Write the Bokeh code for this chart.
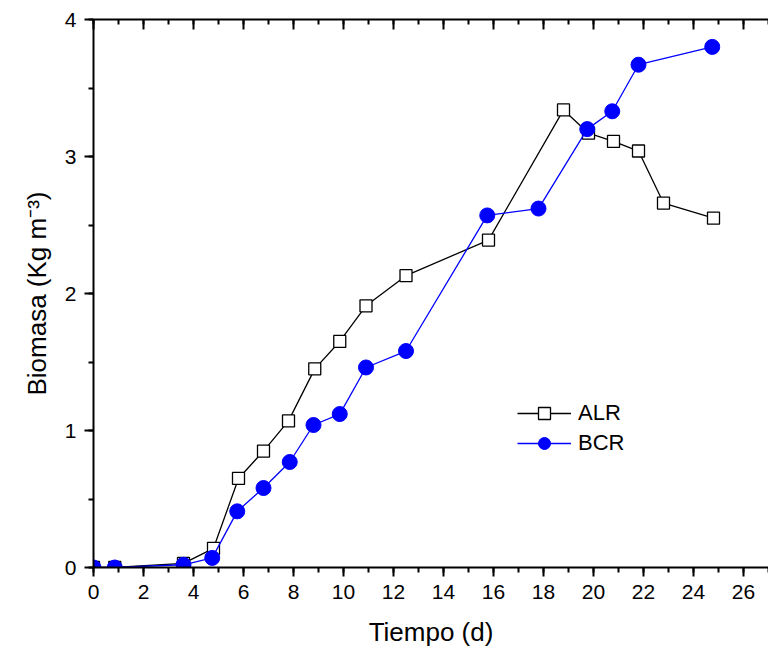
from bokeh.plotting import figure
from bokeh.models import (LinearAxis, Legend, LegendItem, Range1d, SingleIntervalTicker,
                          CustomJSTickFormatter)
from bokeh.embed import file_html
from bokeh.resources import INLINE

# Data
alr_t = [0.0, 0.85, 3.6, 4.8, 5.8, 6.8, 7.8, 8.85, 9.85, 10.9, 12.5, 15.8, 18.8, 19.8, 20.8, 21.8, 22.8, 24.8]
alr_b = [0.0, 0.0, 0.03, 0.14, 0.65, 0.85, 1.07, 1.45, 1.65, 1.91, 2.13, 2.39, 3.34, 3.17, 3.11, 3.04, 2.66, 2.55]
bcr_t = [0.0, 0.85, 3.6, 4.75, 5.75, 6.8, 7.85, 8.8, 9.85, 10.9, 12.5, 15.75, 17.8, 19.75, 20.75, 21.8, 24.75]
bcr_b = [0.0, 0.0, 0.02, 0.07, 0.41, 0.58, 0.77, 1.04, 1.12, 1.46, 1.58, 2.57, 2.62, 3.2, 3.33, 3.67, 3.80]

FONT = "Liberation Sans"

p = figure(width=768, height=654, output_backend="svg", toolbar_location=None,
           x_range=Range1d(0, 27), y_range=Range1d(0, 4),
           min_border_left=93, min_border_right=0, min_border_top=19, min_border_bottom=87)
p.outline_line_color = None
p.xgrid.visible = False
p.ygrid.visible = False

l1 = p.line(alr_t, alr_b, line_color="black", line_width=1.3)
s1 = p.scatter(alr_t, alr_b, marker="square", size=12, fill_color="white", line_color="black", line_width=1.3)
l2 = p.line(bcr_t, bcr_b, line_color="#0000FF", line_width=1.3)
s2 = p.scatter(bcr_t, bcr_b, marker="circle", size=15, fill_color="#0000FF", line_color="#0000FF")

xa = p.xaxis[0]
xa.ticker = SingleIntervalTicker(interval=2, num_minor_ticks=2)
ya = p.yaxis[0]
ya.ticker = SingleIntervalTicker(interval=1, num_minor_ticks=2)
for ax in (xa, ya):
    ax.axis_line_width = 2
    ax.major_tick_line_width = 2
    ax.minor_tick_line_width = 2
    ax.major_tick_in = 0
    ax.major_tick_out = 9
    ax.minor_tick_in = 0
    ax.minor_tick_out = 5
    ax.major_label_text_font = FONT
    ax.major_label_text_font_size = "21px"
    ax.major_label_text_color = "black"
    ax.axis_label_text_font = FONT
    ax.axis_label_text_font_size = "26px"
    ax.axis_label_text_font_style = "normal"
    ax.axis_label_text_color = "black"
xa.major_label_standoff = 8
ya.major_label_standoff = 8
xa.axis_label = "Tiempo (d)"
xa.axis_label_standoff = 15
ya.axis_label = "Biomasa (Kg m\u207b\u00b3)"
ya.axis_label_standoff = 10

top = LinearAxis(ticker=SingleIntervalTicker(interval=2, num_minor_ticks=2),
                 formatter=CustomJSTickFormatter(code="return ''"),
                 axis_line_width=2, major_tick_line_width=2, minor_tick_line_width=2,
                 major_tick_in=10, major_tick_out=0, minor_tick_in=5, minor_tick_out=0,
                 major_label_standoff=0)
p.add_layout(top, "above")

legend = Legend(items=[LegendItem(label="ALR", renderers=[l1, s1]),
                       LegendItem(label="BCR", renderers=[l2, s2])],
                location=(424, 109), glyph_width=54, glyph_height=30,
                label_text_font=FONT, label_text_font_size="22px", label_text_color="black",
                label_standoff=7, spacing=0, padding=0, margin=0,
                border_line_color=None, background_fill_alpha=0)
p.add_layout(legend, "center")

open("out.html", "w").write(file_html(p, INLINE))
